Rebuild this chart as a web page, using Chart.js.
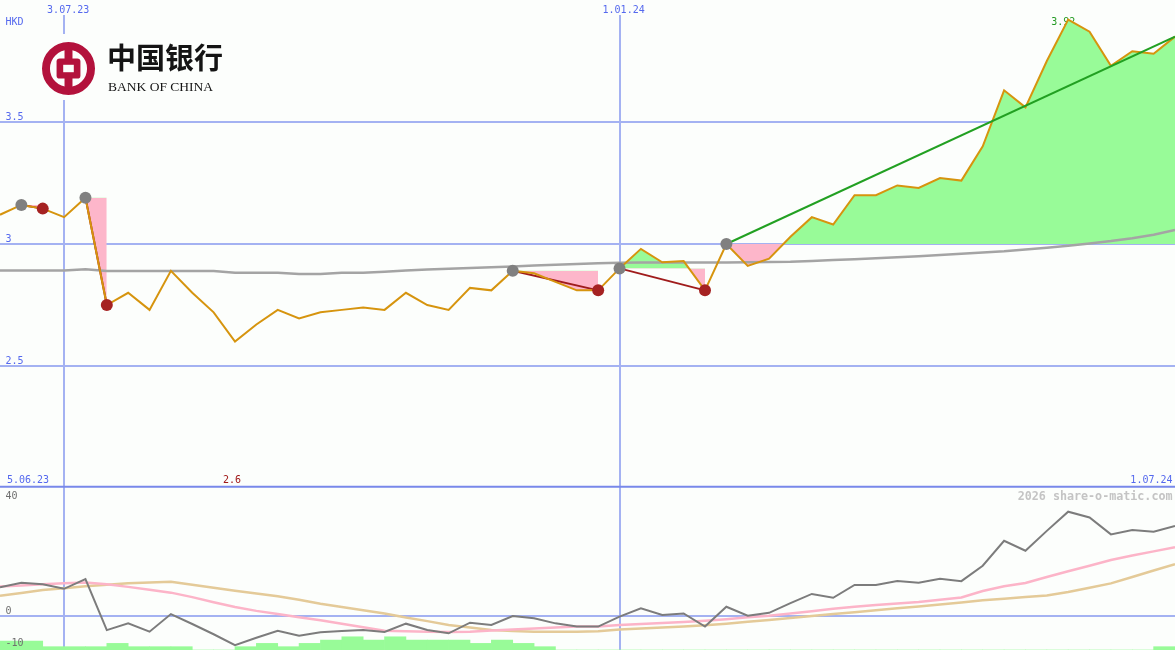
<!DOCTYPE html>
<html>
<head>
<meta charset="utf-8">
<script src="https://cdn.jsdelivr.net/npm/chart.js@4.4.1/dist/chart.umd.min.js"></script>
<style>
html, body { margin: 0; padding: 0; background: #fcfefc; }
#wrap { position: relative; width: 1175px; height: 650px; overflow: hidden; }
canvas { position: absolute; left: 0; display: block; }
#priceChart { top: 0; }
#oscChart { top: 488px; }
</style>
</head>
<body>
<div id="wrap">
  <canvas id="priceChart" width="1175" height="488"></canvas>
  <canvas id="oscChart" width="1175" height="162"></canvas>
</div>
<script>
// weekly closes 12.06.23 .. 1.07.24, HKD
const closes = [3.12, 3.16, 3.145, 3.11, 3.19, 2.75, 2.80, 2.73, 2.89, 2.80,
  2.72, 2.60, 2.67, 2.73, 2.695, 2.72, 2.73, 2.74, 2.73, 2.80,
  2.75, 2.73, 2.82, 2.81, 2.89, 2.88, 2.845, 2.81, 2.81, 2.90,
  2.98, 2.925, 2.93, 2.81, 3.00, 2.91, 2.94, 3.03, 3.11, 3.08,
  3.20, 3.20, 3.24, 3.23, 3.27, 3.26, 3.40, 3.63, 3.56, 3.75,
  3.92, 3.87, 3.73, 3.79, 3.78, 3.85];
// long moving average (grey)
const avgLong = [2.891, 2.891, 2.891, 2.891, 2.896, 2.889, 2.889, 2.889, 2.889, 2.889,
  2.889, 2.882, 2.882, 2.882, 2.877, 2.877, 2.882, 2.882, 2.886, 2.891,
  2.895, 2.899, 2.902, 2.905, 2.908, 2.912, 2.915, 2.918, 2.921, 2.923,
  2.924, 2.924, 2.924, 2.924, 2.924, 2.925, 2.926, 2.927, 2.930, 2.934,
  2.938, 2.942, 2.946, 2.950, 2.955, 2.960, 2.965, 2.970, 2.977, 2.985,
  2.993, 3.002, 3.012, 3.024, 3.038, 3.057];
// lower panel
const osc = [9.0, 10.4, 9.9, 8.5, 11.5, -4.4, -2.3, -4.9, 0.6, -2.5,
  -5.7, -9.1, -6.8, -4.6, -6.2, -5.1, -4.7, -4.4, -5.0, -2.4,
  -4.4, -5.4, -2.1, -2.8, 0.0, -0.7, -2.3, -3.3, -3.3, -0.2,
  2.4, 0.3, 0.8, -3.3, 2.9, 0.1, 1.0, 4.0, 6.9, 5.7,
  9.7, 9.7, 10.9, 10.4, 11.6, 10.9, 15.7, 23.5, 20.4, 26.6,
  32.6, 30.8, 25.5, 26.9, 26.3, 28.1];
const oscFast = [9.2, 9.5, 9.9, 10.2, 10.5, 9.9, 9.1, 8.2, 7.3, 5.9,
  4.3, 2.8, 1.6, 0.6, -0.4, -1.3, -2.4, -3.5, -4.6, -4.8,
  -4.9, -5.0, -4.9, -4.5, -4.2, -3.9, -3.6, -3.3, -3.3, -2.8,
  -2.5, -2.2, -1.9, -1.5, -1.0, -0.4, 0.1, 0.8, 1.5, 2.3,
  2.9, 3.4, 3.9, 4.4, 5.1, 5.8, 7.8, 9.3, 10.3, 12.2,
  14.0, 15.7, 17.5, 18.9, 20.2, 21.5];
const oscSlow = [6.3, 7.2, 8.1, 8.7, 9.3, 9.8, 10.2, 10.5, 10.7, 9.8,
  8.8, 7.9, 7.0, 6.2, 5.1, 3.8, 2.8, 1.8, 0.8, -0.5,
  -1.6, -2.8, -3.6, -4.4, -4.7, -4.9, -4.9, -4.9, -4.8, -4.2,
  -3.9, -3.6, -3.3, -2.9, -2.4, -1.8, -1.25, -0.6, 0.0, 0.6,
  1.2, 1.8, 2.4, 3.0, 3.6, 4.2, 4.9, 5.4, 5.9, 6.4,
  7.5, 8.8, 10.2, 12.2, 14.2, 16.2];
// volume per week (between consecutive closes)
const volume = [2.7, 2.7, 1, 1, 1, 2, 1, 1, 1, 0,
  0, 1, 2, 1, 2, 3, 4, 3, 4, 3,
  3, 3, 2, 3, 2, 1, 0, 0, 0, 0,
  0, 0, 0, 0, 0, 0, 0, 0, 0, 0,
  0, 0, 0, 0, 0, 0, 0, 0, 0, 0,
  0, 0, 0, 0, 1];
// signals
const buyIdx = [1, 4, 24, 29, 34];
const sellIdx = [2, 5, 28, 33, null];
// ticks
const priceTicks = [2.5, 3, 3.5];
const oscTicks = [40, 0, -10];
const dateTickIdx = [3, 29];
const dateTickText = ['3.07.23', '1.01.24'];
const rangeText = ['5.06.23', '1.07.24'];

const BG = '#fcfefc';
const GRID = '#a4b2f2';
const BLUE = '#5569ee';
const GREEN_FILL = '#98fb98';
const PINK_FILL = '#fdb6ca';
const FONT = '10px "DejaVu Sans Mono"';
const last = closes.length - 1;

const pts = (arr, from, to) => arr.slice(from, to + 1).map((v, k) => ({ x: from + k, y: v }));
const fmt = v => String(parseFloat(v.toFixed(2)));

function hline(ctx, y, x0, x1) { ctx.beginPath(); ctx.moveTo(x0, y); ctx.lineTo(x1, y); ctx.stroke(); }
function vline(ctx, x, y0, y1) { ctx.beginPath(); ctx.moveTo(x, y0); ctx.lineTo(x, y1); ctx.stroke(); }

function drawLogo(ctx) {
  const cx = 68.5, cy = 68.5, R = 26.5;
  ctx.fillStyle = BG;
  ctx.fillRect(36, 34, 196, 66);
  ctx.fillStyle = '#b3123c';
  ctx.strokeStyle = '#b3123c';
  ctx.lineWidth = 0.3 * R;
  ctx.beginPath();
  ctx.arc(cx, cy, 0.85 * R, 0, Math.PI * 2);
  ctx.stroke();
  ctx.fillRect(cx - 0.15 * R, cy - 0.74 * R, 0.3 * R, 1.48 * R);
  ctx.beginPath();
  ctx.roundRect(cx - 0.45 * R, cy - 0.38 * R, 0.9 * R, 0.76 * R, 0.12 * R);
  ctx.fill();
  ctx.fillStyle = BG;
  ctx.fillRect(cx - 0.2 * R, cy - 0.14 * R, 0.4 * R, 0.28 * R);

  ctx.fillStyle = '#141414';
  ctx.textAlign = 'left';
  ctx.textBaseline = 'middle';
  ctx.font = 'bold 29px "Noto Sans CJK SC"';
  ctx.fillText('中国银行', 107, 58);
  ctx.textBaseline = 'alphabetic';
  ctx.font = '13.5px "Liberation Serif"';
  ctx.fillText('BANK OF CHINA', 108, 91, 117);
}

const priceDecor = {
  id: 'priceDecor',
  beforeDraw(chart) {
    const { ctx, width, height } = chart;
    const { x, y } = chart.scales;
    ctx.save();
    ctx.fillStyle = BG;
    ctx.fillRect(0, 0, width, height);
    ctx.strokeStyle = GRID;
    ctx.lineWidth = 2;
    priceTicks.forEach(v => hline(ctx, Math.round(y.getPixelForValue(v)), 0, width));
    dateTickIdx.forEach(i => vline(ctx, Math.round(x.getPixelForValue(i)), 0, height));
    ctx.restore();
  },
  beforeDatasetsDraw(chart) {
    const { ctx } = chart;
    const { x } = chart.scales;
    const hi = closes.indexOf(Math.max(...closes));
    ctx.save();
    ctx.font = FONT;
    ctx.fillStyle = '#229a22';
    ctx.textAlign = 'left';
    ctx.textBaseline = 'alphabetic';
    ctx.fillText(fmt(closes[hi]), x.getPixelForValue(hi) - 17, 25);
    ctx.restore();
  },
  afterDraw(chart) {
    const { ctx, width, height } = chart;
    const { x, y } = chart.scales;
    ctx.save();
    ctx.font = FONT;
    ctx.textBaseline = 'alphabetic';
    ctx.textAlign = 'left';
    // date labels on top
    dateTickIdx.forEach((i, k) => {
      const px = x.getPixelForValue(i);
      ctx.fillStyle = BG;
      ctx.fillRect(px - 18, 0, 46, 15);
      ctx.fillStyle = BLUE;
      ctx.fillText(dateTickText[k], px - 17, 12.5);
    });
    ctx.fillStyle = BLUE;
    ctx.fillText('HKD', 5.5, 25);
    priceTicks.forEach(v => ctx.fillText(fmt(v), 5.5, Math.round(y.getPixelForValue(v)) - 2.5));
    ctx.fillText(rangeText[0], 7, 482.5);
    ctx.textAlign = 'right';
    ctx.fillText(rangeText[1], 1172.5, 482.5);
    // low label
    const lo = closes.indexOf(Math.min(...closes));
    ctx.textAlign = 'left';
    ctx.fillStyle = '#a01818';
    ctx.fillText(fmt(closes[lo]), x.getPixelForValue(lo) - 12, 482.5);
    // panel separator
    ctx.strokeStyle = '#7888ea';
    ctx.lineWidth = 2;
    hline(ctx, height - 1.3, 0, width);
    drawLogo(ctx);
    ctx.restore();
  }
};

const oscDecor = {
  id: 'oscDecor',
  beforeDraw(chart) {
    const { ctx, width, height } = chart;
    const { x, y } = chart.scales;
    ctx.save();
    ctx.fillStyle = BG;
    ctx.fillRect(0, 0, width, height);
    ctx.strokeStyle = GRID;
    ctx.lineWidth = 2;
    hline(ctx, Math.round(y.getPixelForValue(0)), 0, width);
    dateTickIdx.forEach(i => vline(ctx, Math.round(x.getPixelForValue(i)), 0, height));
    ctx.restore();
  },
  afterDraw(chart) {
    const { ctx } = chart;
    const { y } = chart.scales;
    ctx.save();
    ctx.font = FONT;
    ctx.textBaseline = 'alphabetic';
    ctx.textAlign = 'left';
    ctx.fillStyle = '#6e6e6e';
    oscTicks.forEach(v => {
      const py = Math.round(y.getPixelForValue(v));
      ctx.fillText(String(v), 5.5, v === 40 ? 11.3 : py - 2.2);
    });
    ctx.font = 'bold 11.7px "DejaVu Sans Mono"';
    ctx.fillStyle = '#c4c4c4';
    ctx.textAlign = 'right';
    ctx.fillText('2026 share-o-matic.com', 1172.5, 12);
    ctx.restore();
  }
};

const tradeFills = buyIdx.map((b, t) => ({
  data: pts(closes, b, sellIdx[t] === null ? last : sellIdx[t]),
  borderWidth: 0,
  pointRadius: 0,
  fill: { target: { value: closes[b] }, above: GREEN_FILL, below: PINK_FILL },
  order: 6
}));

const tradeLines = buyIdx.map((b, t) => {
  const open = sellIdx[t] === null;
  const e = open ? last : sellIdx[t];
  return {
    data: [{ x: b, y: closes[b] }, { x: e, y: closes[e] }],
    borderColor: open ? '#22a022' : '#a01c1c',
    borderWidth: 2,
    pointRadius: 0,
    fill: false,
    order: open ? 1 : 3
  };
});

new Chart(document.getElementById('priceChart'), {
  type: 'line',
  data: {
    datasets: [
      ...tradeFills,
      { data: pts(avgLong, 0, last), borderColor: '#a4a4a4', borderWidth: 2.5, pointRadius: 0, fill: false, order: 5 },
      { data: pts(closes, 0, last), borderColor: '#d6940e', borderWidth: 2, pointRadius: 0, fill: false, order: 2 },
      ...tradeLines,
      { data: buyIdx.map(i => ({ x: i, y: closes[i] })), showLine: false, pointRadius: 6, pointBorderWidth: 0, pointBackgroundColor: '#808080', order: 0 },
      { data: sellIdx.filter(i => i !== null).map(i => ({ x: i, y: closes[i] })), showLine: false, pointRadius: 6, pointBorderWidth: 0, pointBackgroundColor: '#a52222', order: 0 }
    ]
  },
  options: {
    responsive: false,
    animation: false,
    devicePixelRatio: 1,
    layout: { padding: 0, autoPadding: false },
    scales: {
      x: { type: 'linear', display: false, min: 0, max: last, offset: false },
      y: { display: false, min: 2, max: 4 }
    },
    plugins: { legend: { display: false }, tooltip: { enabled: false } }
  },
  plugins: [priceDecor]
});

new Chart(document.getElementById('oscChart'), {
  type: 'line',
  data: {
    datasets: [
      { type: 'bar', data: volume.map((v, i) => ({ x: i + 0.5, y: v })), yAxisID: 'yv', backgroundColor: GREEN_FILL, borderWidth: 0, barPercentage: 1, categoryPercentage: 1, order: 4 },
      { data: pts(oscSlow, 0, last), borderColor: '#e4ca98', borderWidth: 2.5, pointRadius: 0, fill: false, order: 3 },
      { data: pts(oscFast, 0, last), borderColor: '#fcb4c8', borderWidth: 2.5, pointRadius: 0, fill: false, order: 2 },
      { data: pts(osc, 0, last), borderColor: '#7c7c7c', borderWidth: 2, pointRadius: 0, fill: false, order: 1 }
    ]
  },
  options: {
    responsive: false,
    animation: false,
    devicePixelRatio: 1,
    layout: { padding: 0, autoPadding: false },
    scales: {
      x: { type: 'linear', display: false, min: 0, max: last, offset: false },
      y: { display: false, min: -10.625, max: 40 },
      yv: { display: false, min: 0, max: 49 }
    },
    plugins: { legend: { display: false }, tooltip: { enabled: false } }
  },
  plugins: [oscDecor]
});
</script>
</body>
</html>
